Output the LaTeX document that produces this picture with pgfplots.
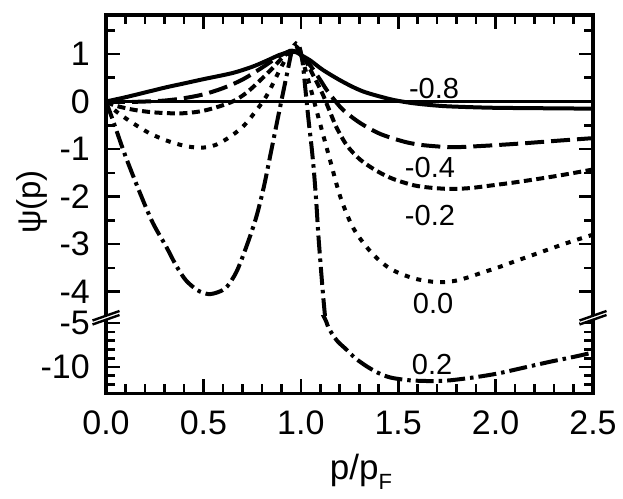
\documentclass[border=0pt]{standalone}
\usepackage{pgfplots}
\pgfplotsset{compat=1.18}
\usepackage{fontspec}
\setmainfont{Liberation Sans}
\begin{document}
\begin{tikzpicture}
\useasboundingbox (0pt,0pt) rectangle (623pt,498pt);
\pgfplotsset{
  common/.style={
    scale only axis, width=487pt,
    xmin=0, xmax=2.5,
    separate axis lines,
    axis line style={draw=none},
    tick align=inside,
    major tick length=14pt, minor tick length=9pt,
    tick style={black, line width=2.6pt},
    xtick={0,0.5,1,1.5,2,2.5}, minor x tick num=4,
    ytick pos=both, yticklabel pos=left,
    tick label style={font=\fontsize{34}{34}\selectfont, inner sep=0pt},
    yticklabel style={xshift=-16pt},
    xticklabel style={yshift=-17.5pt},
    clip=true,
  },
  ldash/.style={line width=4pt, dash pattern=on 19pt off 7pt},
  sdash/.style={line width=4pt, dash pattern=on 8pt off 4.5pt},
  sdot/.style={line width=4pt, dash pattern=on 5pt off 7pt},
  dashdot/.style={line width=4pt, dash pattern=on 18pt off 5pt on 3.5pt off 5pt},
}
% ---------------- upper panel ----------------
\begin{axis}[common, at={(106pt,182.3pt)}, anchor=south west, height=300.7pt,
  ymin=-4.505, ymax=1.82,
  ytick={-4,-3,-2,-1,0,1}, yticklabels={-4,-3,-2,-1,0,1},
  minor ytick={-3.5,-2.5,-1.5,-0.5,0.5,1.5},
  xtick pos=right, xticklabels={}]
\addplot[black, line width=2.6pt] coordinates {(0,0) (2.5,0)};
% -0.8 solid
\addplot[black, line width=4pt, smooth] coordinates {
(0,0) (0.1,0.09) (0.2,0.19) (0.31,0.30) (0.4,0.38) (0.5,0.47) (0.65,0.6) (0.75,0.73) (0.82,0.85) (0.89,0.98) (0.93,1.03) (0.955,1.05) (0.98,1.03) (1.0,0.98) (1.05,0.86) (1.115,0.66) (1.218,0.41) (1.321,0.21) (1.458,0.05) (1.55,-0.02) (1.63,-0.06) (1.75,-0.1) (1.97,-0.13) (2.2,-0.14) (2.5,-0.15)};
% long dashed
\addplot[black, ldash, smooth] coordinates {
(0,0) (0.1,-0.01) (0.2,0.0) (0.3,0.02) (0.4,0.07) (0.5,0.15) (0.6,0.28) (0.7,0.46) (0.8,0.71) (0.88,0.93) (0.93,1.04) (0.955,1.07) (0.98,1.04) (1.0,0.98) (1.05,0.75) (1.099,0.46) (1.13,0.26) (1.167,0.06) (1.218,-0.18) (1.304,-0.45) (1.407,-0.68) (1.526,-0.84) (1.612,-0.91) (1.72,-0.95) (1.8,-0.96) (1.95,-0.93) (2.14,-0.88) (2.3,-0.83) (2.5,-0.77)};
% short dashed
\addplot[black, sdash, smooth] coordinates {
(0,0) (0.03,-0.06) (0.07,-0.11) (0.15,-0.18) (0.25,-0.23) (0.38,-0.25) (0.48,-0.21) (0.56,-0.13) (0.65,0.0) (0.72,0.18) (0.79,0.44) (0.85,0.68) (0.9,0.9) (0.94,1.05) (0.965,1.1) (0.99,1.05) (1.03,0.82) (1.064,0.55) (1.09,0.34) (1.115,0.13) (1.15,-0.22) (1.184,-0.55) (1.236,-0.92) (1.304,-1.22) (1.39,-1.46) (1.475,-1.63) (1.578,-1.76) (1.66,-1.81) (1.77,-1.84) (1.87,-1.82) (1.97,-1.77) (2.1,-1.7) (2.23,-1.62) (2.35,-1.54) (2.5,-1.43)};
% dotted
\addplot[black, sdot, smooth] coordinates {
(0,0) (0.05,-0.2) (0.1,-0.35) (0.14,-0.46) (0.22,-0.66) (0.31,-0.82) (0.4,-0.93) (0.47,-0.97) (0.52,-0.96) (0.57,-0.9) (0.63,-0.76) (0.70,-0.54) (0.76,-0.25) (0.82,0.09) (0.86,0.4) (0.89,0.65) (0.93,0.95) (0.96,1.13) (0.975,1.16) (0.99,1.1) (1.0,1.0) (1.05,0.28) (1.1,-0.48) (1.15,-1.23) (1.2,-1.97) (1.25,-2.5) (1.29,-2.8) (1.35,-3.12) (1.4,-3.33) (1.46,-3.52) (1.53,-3.65) (1.6,-3.74) (1.7,-3.8) (1.78,-3.78) (1.85,-3.71) (1.93,-3.6) (2.02,-3.48) (2.1,-3.36) (2.19,-3.23) (2.3,-3.07) (2.4,-2.93) (2.5,-2.8)};
% dash-dot
\addplot[black, dashdot, smooth] coordinates {
(0,0) (0.02,-0.22) (0.046,-0.52) (0.1,-1.15) (0.175,-1.93) (0.24,-2.55) (0.31,-3.06) (0.36,-3.45) (0.41,-3.76) (0.47,-3.97) (0.525,-4.05) (0.575,-4.01) (0.62,-3.9) (0.67,-3.58) (0.72,-3.06) (0.77,-2.45) (0.81,-1.8) (0.85,-1.0) (0.89,-0.19) (0.93,0.6) (0.955,1.08) (0.975,1.22) (0.995,1.12) (1.01,0.8) (1.025,0.2) (1.04,-0.4) (1.056,-0.98) (1.068,-1.5) (1.08,-2.15) (1.09,-2.8) (1.103,-3.5) (1.115,-4.1) (1.125,-4.55) (1.132,-4.9) (1.14,-5.4)};
\node[font=\fontsize{29}{29}\selectfont] at (axis cs:1.684,0.27) {-0.8};
\node[font=\fontsize{29}{29}\selectfont] at (axis cs:1.663,-1.38) {-0.4};
\node[font=\fontsize{29}{29}\selectfont] at (axis cs:1.663,-2.395) {-0.2};
\node[font=\fontsize{29}{29}\selectfont] at (axis cs:1.679,-4.24) {0.0};
\end{axis}
% ---------------- lower panel ----------------
\begin{axis}[common, at={(106pt,104.7pt)}, anchor=south west, height=77.6pt,
  ymin=-13, ymax=-4.15,
  ytick={-10,-5}, yticklabels={-10,-5},
  minor ytick={-12,-11,-9,-8,-7,-6},
  xtick pos=left, xticklabels={0.0,0.5,1.0,1.5,2.0,2.5}]
\addplot[black, dashdot, smooth] coordinates {
(1.103,-3.5) (1.115,-4.1) (1.125,-4.55) (1.132,-4.9) (1.14,-5.4) (1.16,-6.2) (1.19,-7.1) (1.235,-8.03) (1.28,-9.0) (1.34,-9.95) (1.40,-10.7) (1.46,-11.2) (1.55,-11.5) (1.65,-11.6) (1.75,-11.55) (1.85,-11.3) (1.93,-11.05) (2.02,-10.7) (2.15,-10.05) (2.28,-9.4) (2.4,-8.85) (2.5,-8.35)};
\node[font=\fontsize{29}{29}\selectfont] at (axis cs:1.674,-9.74) {0.2};
\end{axis}
% frame
\draw[line width=3.3pt] (106pt,104.7pt) rectangle (593pt,483pt);
% axis breaks
\foreach \xc in {106,593}{
  \fill[white] (\xc pt-13.5pt,173.5pt) -- (\xc pt+13.5pt,183pt) -- (\xc pt+13.5pt,187pt) -- (\xc pt-13.5pt,177pt) -- cycle;
  \draw[line width=2.4pt] (\xc pt-13.5pt,173.5pt) -- (\xc pt+13.5pt,183pt);
  \draw[line width=2.4pt] (\xc pt-13.5pt,177.5pt) -- (\xc pt+13.5pt,187pt);
}
% axis titles
\node[rotate=90, font=\fontsize{33}{33}\selectfont] at (31.5pt,296pt) {ψ(p)};
\node[anchor=base, font=\fontsize{35}{35}\selectfont] at (361pt,19pt) {p/p\raisebox{-0.3em}{\fontsize{22}{22}\selectfont F}};
\end{tikzpicture}
\end{document}
